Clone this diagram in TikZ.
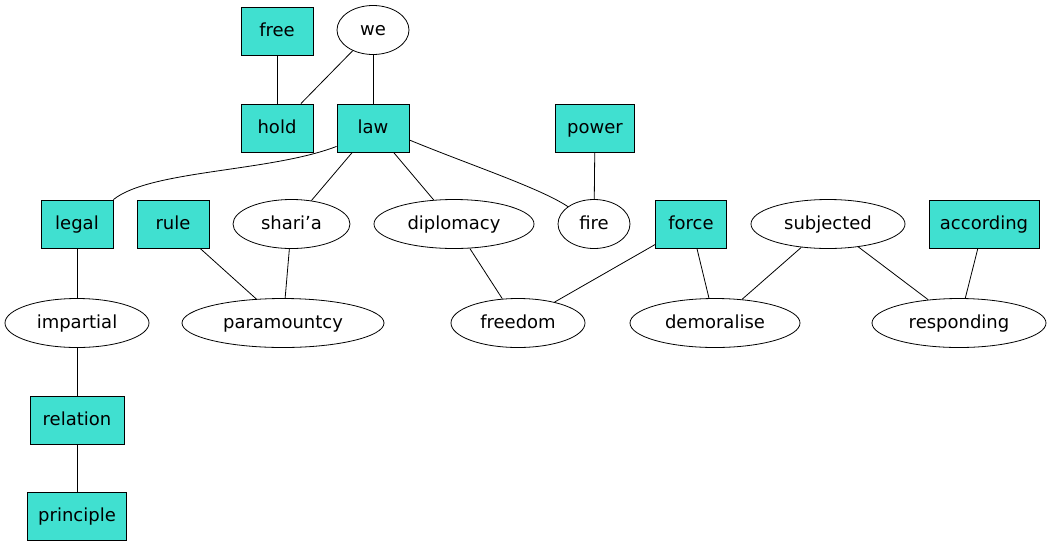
\documentclass[tikz,border=0pt]{standalone}
\usepackage{fontspec}
\setmainfont{DejaVu Sans}
\usetikzlibrary{shapes.geometric}
\definecolor{turq}{HTML}{40E0D0}
\begin{document}
\begin{tikzpicture}[x=1pt,y=-1pt, line width=0.8pt,
  every node/.style={font=\fontsize{18}{20}\selectfont, inner sep=0pt, text height=14pt, text depth=3pt},
  box/.style={draw, fill=turq, rectangle, minimum height=48pt},
  oval/.style={draw, ellipse, minimum height=49pt},
  edge/.style={draw}]
\useasboundingbox (0,0) rectangle (1051,547);
\node[box, minimum width=72pt] (free) at (277,31) {free};
\node[oval, minimum width=72pt] (we) at (373,30) {we};
\node[box, minimum width=72pt] (hold) at (277,128) {hold};
\node[box, minimum width=72pt] (law) at (373,128) {law};
\node[box, minimum width=79pt] (power) at (595,128) {power};
\node[box, minimum width=72pt] (legal) at (77,224) {legal};
\node[box, minimum width=72pt] (rule) at (173,224) {rule};
\node[oval, minimum width=117pt] (sharia) at (291.5,224) {shari’a};
\node[oval, minimum width=160pt] (diplomacy) at (454,224) {diplomacy};
\node[oval, minimum width=72pt] (fire) at (594,224) {fire};
\node[box, minimum width=71pt] (force) at (691,224) {force};
\node[oval, minimum width=154pt] (subjected) at (828,224) {subjected};
\node[box, minimum width=110pt] (according) at (984,224) {according};
\node[oval, minimum width=144pt] (impartial) at (77,323) {impartial};
\node[oval, minimum width=202pt] (paramountcy) at (283,323) {paramountcy};
\node[oval, minimum width=134pt] (freedom) at (518,323) {freedom};
\node[oval, minimum width=170pt] (demoralise) at (715,323) {demoralise};
\node[oval, minimum width=174pt] (responding) at (959,323) {responding};
\node[box, minimum width=94pt] (relation) at (77,420) {relation};
\node[box, minimum width=99pt] (principle) at (77,516) {principle};
\draw[edge] (free) -- (hold);
\draw[edge] (we) -- (hold);
\draw[edge] (we) -- (law);
\draw[edge] (law.south west) ++(0,-6) .. controls (270,172) and (150,170) .. (legal.north east);
\draw[edge] (law) -- (sharia);
\draw[edge] (law) -- (diplomacy);
\draw[edge] (law.east) ++(0,12) .. controls (470,165) and (540,188) .. (fire);
\draw[edge] (power) -- (fire);
\draw[edge] (legal) -- (impartial);
\draw[edge] (rule) -- (paramountcy);
\draw[edge] (sharia) -- (paramountcy);
\draw[edge] (diplomacy) -- (freedom);
\draw[edge] (force) -- (freedom);
\draw[edge] (force) -- (demoralise);
\draw[edge] (subjected) -- (demoralise);
\draw[edge] (subjected) -- (responding);
\draw[edge] (according) -- (responding);
\draw[edge] (impartial) -- (relation);
\draw[edge] (relation) -- (principle);
\end{tikzpicture}
\end{document}
